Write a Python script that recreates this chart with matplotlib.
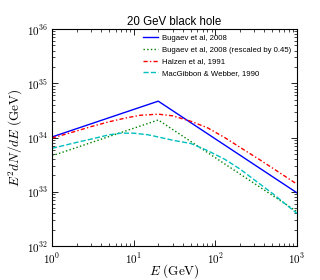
import numpy as np
import matplotlib
matplotlib.use("Agg")
import matplotlib.pyplot as plt
from matplotlib.ticker import FixedLocator, FixedFormatter, LogLocator, NullFormatter

plt.rcParams['mathtext.fontset'] = 'cm'
plt.rcParams['font.family'] = ['Liberation Sans', 'DejaVu Sans']

# Data (log10 of E^2 dN/dE)
E_bugaev = [1, 20, 1000]
logY_bugaev = [34.01, 34.67, 32.98]
rescale = 0.45

E_halzen = [1, 2, 3, 5, 8, 12, 20, 30, 50, 80, 130, 200, 350, 600, 1000]
logY_halzen = [33.99, 34.12, 34.20, 34.29, 34.36, 34.41, 34.43, 34.40, 34.30,
               34.18, 34.00, 33.82, 33.59, 33.36, 33.14]

E_macg = [1, 2, 3, 5, 7, 10, 15, 20, 30, 50, 80, 130, 200, 300, 500, 1000]
logY_macg = [33.80, 33.91, 33.97, 34.05, 34.08, 34.08, 34.05, 34.01, 33.95,
             33.89, 33.76, 33.60, 33.42, 33.22, 32.97, 32.60]

labels = ["Bugaev et al, 2008", "Bugaev et al, 2008 (rescaled by 0.45)",
          "Halzen et al, 1991", "MacGibbon & Webber, 1990"]
title = "20 GeV black hole"
ytick_vals = [1e32, 1e33, 1e34, 1e35, 1e36]
ytick_labels = [r'$10^{32}$', r'$10^{33}$', r'$10^{34}$', r'$10^{35}$', r'$10^{36}$']
xtick_vals = [1, 10, 100, 1000]
xtick_labels = [r'$10^{0}$', r'$10^{1}$', r'$10^{2}$', r'$10^{3}$']

fig = plt.figure(figsize=(3.2, 2.8), dpi=100)
ax = fig.add_axes([0.1625, 0.1214, 0.7656, 0.7750])

yb = 10 ** np.array(logY_bugaev)
ax.plot(E_bugaev, yb, color='b', lw=1.0, ls='-', label=labels[0])
ax.plot(E_bugaev, yb * rescale, color='g', lw=1.0, ls=':', label=labels[1])
ax.plot(E_halzen, 10 ** np.array(logY_halzen), color='r', lw=1.0,
        dashes=(3, 1.6, 1, 1.6), label=labels[2])
ax.plot(E_macg, 10 ** np.array(logY_macg), color='c', lw=1.0, ls='--', label=labels[3])

ax.set_xscale('log')
ax.set_yscale('log')
ax.set_xlim(1, 1000)
ax.set_ylim(1e32, 1e36)

ax.xaxis.set_major_locator(FixedLocator(xtick_vals))
ax.xaxis.set_major_formatter(FixedFormatter(xtick_labels))
ax.yaxis.set_major_locator(FixedLocator(ytick_vals))
ax.yaxis.set_major_formatter(FixedFormatter(ytick_labels))
ax.xaxis.set_minor_locator(LogLocator(base=10, subs=np.arange(2, 10)))
ax.yaxis.set_minor_locator(LogLocator(base=10, subs=np.arange(2, 10)))
ax.xaxis.set_minor_formatter(NullFormatter())
ax.yaxis.set_minor_formatter(NullFormatter())

ax.tick_params(which='both', direction='in', top=True, right=True, labelsize=8)
ax.tick_params(axis='x', which='major', pad=3.5)
ax.tick_params(axis='y', which='major', pad=3)
ax.tick_params(which='major', length=4, width=0.6)
ax.tick_params(which='minor', length=2, width=0.5)
for s in ax.spines.values():
    s.set_linewidth(0.8)

ax.set_xlabel(r'$E\ \mathrm{(GeV)}$', fontsize=9.5, labelpad=-2.5)
ax.set_ylabel(r'$E^2dN/dE\ \mathrm{(GeV)}$', fontsize=9.5, labelpad=1.5)
ax.set_title(title, fontsize=8.3, pad=3)

ax.legend(loc='upper right', frameon=False, fontsize=5.6, handlelength=2.0,
          borderaxespad=0.3, labelspacing=0.55, handletextpad=0.5)

fig.savefig('out.png', dpi=100)
